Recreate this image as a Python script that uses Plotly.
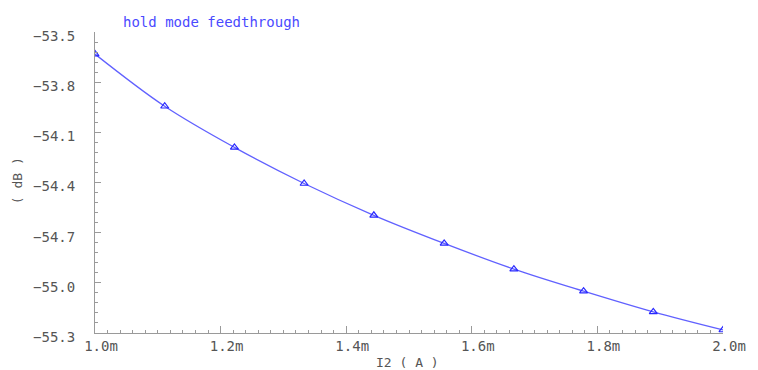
import plotly.graph_objects as go

# data
i2_amps = [1.000e-3, 1.111e-3, 1.222e-3, 1.333e-3, 1.444e-3,
           1.556e-3, 1.667e-3, 1.778e-3, 1.889e-3, 2.000e-3]
feedthrough_db = [-53.632, -53.944, -54.190, -54.406, -54.596,
                  -54.764, -54.918, -55.050, -55.174, -55.282]
x_tick_vals = [1.0e-3, 1.2e-3, 1.4e-3, 1.6e-3, 1.8e-3, 2.0e-3]
x_tick_text = ["1.0m", "1.2m", "1.4m", "1.6m", "1.8m", "2.0m"]
y_tick_vals = [-53.5, -53.8, -54.1, -54.4, -54.7, -55.0, -55.3]
y_tick_text = ["\u221253.5", "\u221253.8", "\u221254.1", "\u221254.4",
               "\u221254.7", "\u221255.0", "\u221255.3"]

FONT = "DejaVu Sans Mono"
TICK_COLOR = "#555555"
AXIS_COLOR = "#9a9a9a"

fig = go.Figure()
fig.add_trace(go.Scatter(
    x=i2_amps, y=feedthrough_db, mode="lines+markers",
    line=dict(color="#6161ff", width=1.3, shape="spline"),
    marker=dict(symbol="triangle-up-open", size=7, color="#2828ff",
                line=dict(width=1.2, color="#2828ff")),
    showlegend=False,
))

fig.update_layout(
    width=758, height=370,
    margin=dict(l=95, r=25, t=32, b=37),
    paper_bgcolor="white", plot_bgcolor="white",
    font=dict(family=FONT, size=13, color=TICK_COLOR),
)
fig.update_xaxes(
    range=[1.0e-3, 2.0e-3],
    tickvals=x_tick_vals, ticktext=x_tick_text,
    ticks="inside", ticklen=7, tickwidth=1, tickcolor=AXIS_COLOR,
    minor=dict(ticks="inside", ticklen=3, dtick=0.02e-3, tick0=1.0e-3,
               tickcolor=AXIS_COLOR, showgrid=False),
    showline=True, linecolor=AXIS_COLOR, linewidth=1,
    showgrid=False, zeroline=False,
    tickfont=dict(family=FONT, size=14, color=TICK_COLOR),
    ticklabelshift=6,
)
fig.update_yaxes(
    range=[-55.3, -53.5],
    tickvals=y_tick_vals, ticktext=y_tick_text,
    ticks="inside", ticklen=6, tickwidth=1, tickcolor=AXIS_COLOR,
    minor=dict(ticks="inside", ticklen=3, dtick=0.06, tick0=-55.3,
               tickcolor=AXIS_COLOR, showgrid=False),
    showline=True, linecolor=AXIS_COLOR, linewidth=1,
    showgrid=False, zeroline=False,
    tickfont=dict(family=FONT, size=14, color=TICK_COLOR),
    ticklabelstandoff=16, ticklabelshift=4,
)

fig.add_annotation(text="hold mode feedthrough", xref="paper", yref="paper",
                   x=(213 - 95) / 638, y=(333 - 22) / 301, showarrow=False,
                   xanchor="center", yanchor="middle",
                   font=dict(family=FONT, size=14, color="#4a4aff"))
fig.add_annotation(text="( dB )", xref="paper", yref="paper",
                   x=(16 - 95) / 638, y=(333 - 181) / 301, showarrow=False,
                   textangle=-90, xanchor="center", yanchor="middle",
                   font=dict(family=FONT, size=13, color=TICK_COLOR))
fig.add_annotation(text="I2 ( A )", xref="paper", yref="paper",
                   x=(412 - 95) / 638, y=(333 - 362) / 301, showarrow=False,
                   xanchor="center", yanchor="middle",
                   font=dict(family=FONT, size=13, color=TICK_COLOR))

fig.write_html("out.html")
